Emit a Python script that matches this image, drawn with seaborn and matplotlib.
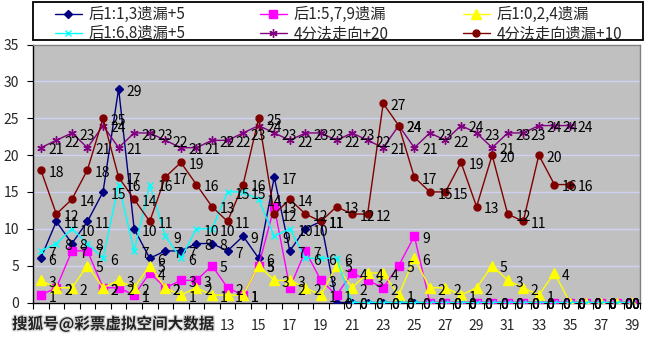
import matplotlib
matplotlib.use('Agg')
import matplotlib.pyplot as plt
import matplotlib.patheffects as pe
from matplotlib.patches import Rectangle
import seaborn as sns
import numpy as np

# ---------------- data ----------------
categories = list(range(1, 40))
# labels 1..11 are hidden under the watermark in the reference
tick_labels = ["" if c < 13 else str(c) for c in categories if c % 2 == 1]

names = ["后1:1,3遗漏+5", "后1:5,7,9遗漏", "后1:0,2,4遗漏",
         "后1:6,8遗漏+5", "4分法走向+20", "4分法走向遗漏+10"]

s_navy = [6, 11, 8, 11, 15, 29, 10, 6, 7, 7, 8, 8, 7, 9, 6, 17, 7, 10, 11,
          0, 0, 0, 0, 0, 0, 0, 0, 0, 0, 0, 0, 0, 0, 0, 0, 0, 0, 0, 0]
s_pink = [1, 2, 7, 7, 2, 2, 1, 4, 2, 3, 3, 5, 2, 1, 5, 13, 2, 7, 3, 1,
          4, 3, 2, 5, 9, 0, 0, 0, 0, 0, 0, 0, 0, 0, 0, 0, 0, 0, 0]
s_yellow = [3, 2, 2, 5, 2, 3, 2, 5, 2, 1, 2, 1, 1, 1, 5, 3, 3, 2, 1, 5,
            2, 4, 4, 1, 6, 2, 2, 1, 2, 5, 3, 2, 1, 4, 0, 0, 0, 0, 0]
s_cyan = [7, 8, 10, 8, 6, 16, 7, 16, 9, 6, 10, 10, 15, 15, 14, 9, 10, 6, 6, 6,
          0, 0, 0, 0, 0, 0, 0, 0, 0, 0, 0, 0, 0, 0, 0, 0, 0, 0, 0]
s_purple = [21, 22, 23, 21, 24, 21, 23, 23, 22, 21, 21, 22, 22, 23, 24, 23, 22,
            23, 23, 22, 23, 22, 21, 24, 21, 23, 22, 24, 23, 21, 23, 23, 24, 24, 24]
s_maroon = [18, 12, 14, 18, 25, 17, 14, 11, 17, 19, 16, 13, 11, 16, 25, 12, 14,
            12, 11, 13, 12, 12, 27, 24, 17, 15, 15, 19, 13, 20, 12, 11, 20, 16, 16]

series = [s_navy, s_pink, s_yellow, s_cyan, s_purple, s_maroon]
colors = ["#000080", "#FF00FF", "#FFFF00", "#00FFFF", "#800080", "#800000"]
markers = ["D", "s", "^", "x", (6, 2, 0), "o"]
msizes = [4.5, 5.5, 6.5, 5, 6, 5]

# ---------------- figure ----------------
sns.set_theme(style="white")
plt.rcParams['font.family'] = ['Noto Sans CJK SC', 'DejaVu Sans']
plt.rcParams['axes.unicode_minus'] = False

W, H = 646, 340
fig = plt.figure(figsize=(W / 100, H / 100), dpi=100)
fig.patch.set_facecolor("white")
ax = fig.add_axes([33 / W, 1 - 302.5 / H, 607 / W, 258 / H])
ax.set_facecolor("#C0C0C0")

for name, vals, c, m, ms in zip(names, series, colors, markers, msizes):
    xs = categories[:len(vals)]
    sns.lineplot(x=xs, y=vals, ax=ax, color=c, marker=m, markersize=ms,
                 markeredgecolor=c, markerfacecolor=c, markeredgewidth=1,
                 linewidth=1, label=name, sort=False, zorder=3)

last = categories[-1]
for vals in series:
    xs = categories[:len(vals)]
    for x, v in zip(xs, vals):
        off = (5.5, -2) if x != last else (-1, -2)
        ax.annotate(str(v), (x, v), xytext=off, textcoords="offset points",
                    ha="left", va="center", fontsize=10, color="black",
                    annotation_clip=False, zorder=5)

ax.set_xlim(0.5, 39.5)
ax.set_ylim(0, 35)
ax.set_xticks([c for c in categories if c % 2 == 1])
ax.set_xticklabels(tick_labels)
ax.set_xticks(np.arange(0.5, 40, 1), minor=True)
ax.set_yticks(range(0, 36, 5))
ax.yaxis.grid(True, color="#D0D0F4", linewidth=1)
ax.xaxis.grid(False)
ax.set_axisbelow(True)
ax.set_xlabel("")
ax.set_ylabel("")

ax.tick_params(axis="x", which="major", length=0, pad=12, labelsize=10, bottom=True)
ax.tick_params(axis="x", which="minor", length=4, width=0.8, color="black",
               direction="out", bottom=True)
ax.tick_params(axis="y", length=4, width=0.8, color="black", direction="out",
               pad=6, labelsize=10, left=True)

for side in ["left", "bottom"]:
    ax.spines[side].set_color("black")
    ax.spines[side].set_linewidth(1)
for side in ["top", "right"]:
    ax.spines[side].set_color("#808080")
    ax.spines[side].set_linewidth(1)

# legend: three columns, two rows, inside one black frame
handles, labels = ax.get_legend_handles_labels()
ax.get_legend().remove()
col_x = [55, 260, 463]
for j in range(3):
    idx = [j, j + 3]
    lg = fig.legend([handles[i] for i in idx], [labels[i] for i in idx],
                    loc="upper left", bbox_to_anchor=(col_x[j] / W, 1 - 6 / H),
                    fontsize=11, handlelength=1.75, handletextpad=0.45,
                    borderpad=0, borderaxespad=0, labelspacing=0.15,
                    frameon=False)
fig.add_artist(Rectangle((33 / W, 1 - 40 / H), 610 / W, 38 / H,
                         transform=fig.transFigure, fill=False,
                         edgecolor="black", linewidth=1.3))

# watermark
fig.text(12 / W, 1 - 324 / H, "搜狐号@彩票虚拟空间大数据", fontsize=11.2, fontweight="bold",
         color="#222222", ha="left", va="center",
         bbox=dict(boxstyle="square,pad=0.3", facecolor="white", edgecolor="none"),
         path_effects=[pe.withStroke(linewidth=2, foreground="#DDDDDD")])

fig.savefig("out.png", dpi=100)
